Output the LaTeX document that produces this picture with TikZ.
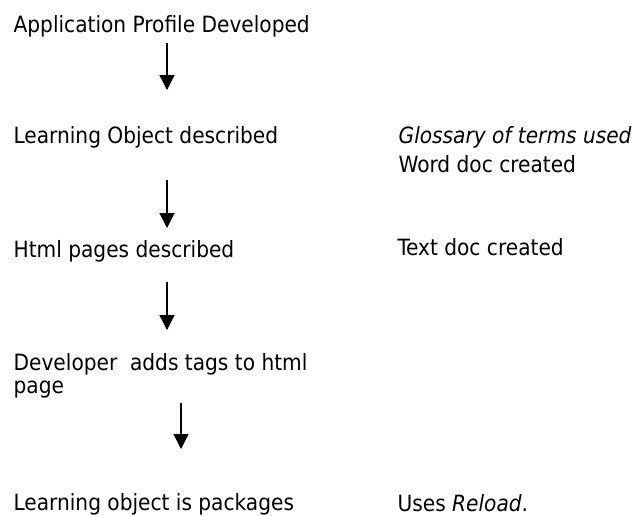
\documentclass[tikz,border=0pt]{standalone}
\usepackage{fontspec}
\setmainfont{DejaVu Sans Condensed}
\usetikzlibrary{arrows.meta}

\begin{document}
\begin{tikzpicture}[x=1pt,y=-1pt,>={Triangle[length=15pt,width=15pt]}, line width=1.3pt, font=\fontsize{22.4}{23}\selectfont]
	\tikzset{step text/.style={anchor=base west,inner sep=0pt,align=left}}
	\useasboundingbox (0,0) rectangle (638,515);
	% left column
	\node[step text] (app) at (13,32) {Application Profile Developed};
	\node[step text] (lobj) at (13,143) {Learning Object described};
	\node[step text] (html) at (13,257) {Html pages described};
	\node[step text] (dev) at (13,393) {Developer\ \ adds tags to html\\page};
	\node[step text] (pack) at (13,510) {Learning object is packages};
	% right column
	\node[step text] (gloss) at (398,143) {\textit{Glossary of terms used}};
	\node[step text] (word) at (398,172) {Word doc created};
	\node[step text] (txt) at (397,255) {Text doc created};
	\node[step text] (uses) at (397,511) {Uses \textit{Reload}.};
	% arrows
	\coordinate (a1) at (167,43); \coordinate (b1) at (167,90);
	\coordinate (a2) at (167,180); \coordinate (b2) at (167,228);
	\coordinate (a3) at (167,282); \coordinate (b3) at (167,330);
	\coordinate (a4) at (181,403); \coordinate (b4) at (181,449);
	\foreach \i in {1,...,4}
	{\draw[->] (a\i)--(b\i);}
\end{tikzpicture}
\end{document}
